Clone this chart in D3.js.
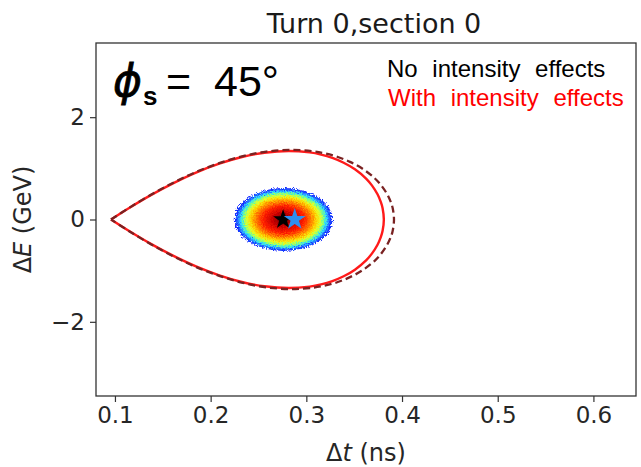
<!DOCTYPE html>
<html>
<head>
<meta charset="utf-8">
<script src="https://cdn.jsdelivr.net/npm/d3@7"></script>
<style>
  body { margin: 0; background: #fff; }
  svg { display: block; }
</style>
</head>
<body>
<script>
// Separatrix, upper half: Δt (ns) and ΔE (GeV), from the unstable fixed point to the right turning point.
const sepTimeWith   = [0.0959, 0.1144, 0.1380, 0.1617, 0.1853, 0.2090, 0.2326, 0.2562, 0.2816, 0.3035, 0.3154, 0.3272, 0.3390, 0.3508, 0.3627, 0.3685, 0.3744, 0.3779, 0.3797, 0.3810];
const sepEnergyWith = [0.000, 0.220, 0.481, 0.716, 0.921, 1.090, 1.221, 1.306, 1.340, 1.311, 1.269, 1.204, 1.110, 0.981, 0.795, 0.667, 0.493, 0.339, 0.221, 0.000];
const sepTimeNo     = [0.0959, 0.1144, 0.1380, 0.1618, 0.1856, 0.2097, 0.2338, 0.2581, 0.2845, 0.3076, 0.3202, 0.3329, 0.3456, 0.3584, 0.3714, 0.3778, 0.3843, 0.3882, 0.3902, 0.3916];
const sepEnergyNo   = [0.000, 0.223, 0.488, 0.727, 0.935, 1.106, 1.239, 1.326, 1.360, 1.331, 1.288, 1.222, 1.127, 0.996, 0.807, 0.677, 0.500, 0.344, 0.224, 0.000];

// Axis ticks
const xTicks = [0.1, 0.2, 0.3, 0.4, 0.5, 0.6];
const yTicks = [-2, 0, 2];

// Bunch: centre (ns, GeV), half extent (ns, GeV), and the density colour scale from core to edge
const bunchCentre = [0.2762, 0.0];
const bunchHalfExtent = [0.0510, 0.615];
const densityOffsets = [0.00, 0.22, 0.42, 0.56, 0.66, 0.75, 0.82, 0.88, 0.93, 1.00];
const densityColours = ["#5a0000", "#c80000", "#ff1e00", "#ff7a00", "#ffcc00", "#e6ff26", "#7dff86", "#2cdcff", "#2a7dff", "#0a12ff"];

// Bunch centre markers: without / with intensity effects
const markerTimes = [0.2757, 0.2879];
const markerEnergies = [0.0, 0.0];
const markerColours = ["#000000", "#2e8ff0"];

const W = 641, H = 467;
const plot = { left: 96, right: 636, top: 43, bottom: 396 };

const svg = d3.select("body").append("svg")
  .attr("width", W).attr("height", H)
  .attr("viewBox", `0 0 ${W} ${H}`);

const x = d3.scaleLinear().domain([0.0802, 0.6445]).range([plot.left, plot.right]);
const y = d3.scaleLinear().domain([-3.45, 3.45]).range([plot.bottom, plot.top]);

const defs = svg.append("defs");

// Jet-like density gradient for the particle cloud
const grad = defs.append("radialGradient")
  .attr("id", "bunchDensity")
  .attr("cx", "50%").attr("cy", "50%").attr("r", "50%");
grad.selectAll("stop")
  .data(densityOffsets)
  .join("stop")
  .attr("offset", d => d)
  .attr("stop-color", (d, i) => densityColours[i]);

// Grain for the macro-particle cloud
const grain = defs.append("filter")
  .attr("id", "grain")
  .attr("x", "-15%").attr("y", "-15%").attr("width", "130%").attr("height", "130%");
grain.append("feTurbulence")
  .attr("type", "fractalNoise")
  .attr("baseFrequency", 0.9)
  .attr("numOctaves", 2)
  .attr("seed", 3)
  .attr("result", "noise");
grain.append("feDisplacementMap")
  .attr("in", "SourceGraphic")
  .attr("in2", "noise")
  .attr("scale", 7)
  .attr("xChannelSelector", "R")
  .attr("yChannelSelector", "G");

const clip = defs.append("clipPath").attr("id", "plotClip");
clip.append("rect")
  .attr("x", plot.left).attr("y", plot.top)
  .attr("width", plot.right - plot.left).attr("height", plot.bottom - plot.top);

const body = svg.append("g").attr("clip-path", "url(#plotClip)");

// Particle cloud
body.append("ellipse")
  .attr("cx", x(bunchCentre[0]))
  .attr("cy", y(bunchCentre[1]))
  .attr("rx", x(bunchCentre[0] + bunchHalfExtent[0]) - x(bunchCentre[0]))
  .attr("ry", y(bunchCentre[1] - bunchHalfExtent[1]) - y(bunchCentre[1]))
  .attr("fill", "url(#bunchDensity)")
  .attr("filter", "url(#grain)");

// Closed separatrix: upper branch out, mirrored lower branch back
function closedSeparatrix(ts, es) {
  const pts = ts.map((t, i) => [t, es[i]]);
  const lower = ts.slice(0, -1).map((t, i) => [t, -es[i]]).reverse();
  return pts.concat(lower);
}

const line = d3.line()
  .x(d => x(d[0]))
  .y(d => y(d[1]))
  .curve(d3.curveCatmullRom.alpha(0.5));

body.append("path")
  .datum(closedSeparatrix(sepTimeWith, sepEnergyWith))
  .attr("d", line)
  .attr("fill", "none")
  .attr("stroke", "#ff1a1a")
  .attr("stroke-width", 2.4);

body.append("path")
  .datum(closedSeparatrix(sepTimeNo, sepEnergyNo))
  .attr("d", line)
  .attr("fill", "none")
  .attr("stroke", "#7a2222")
  .attr("stroke-width", 2.3)
  .attr("stroke-dasharray", "7,4");

// Centre-of-mass markers
const star = d3.symbol().type(d3.symbolStar);
body.selectAll("path.marker")
  .data(markerTimes.map((t, i) => ({ t, e: markerEnergies[i], c: markerColours[i] })))
  .join("path")
  .attr("class", "marker")
  .attr("transform", d => `translate(${x(d.t)},${y(d.e)})`)
  .attr("d", (d, i) => star.size(i === 0 ? 125 : 150)())
  .attr("fill", d => d.c);

// Axes
const axisFont = "'DejaVu Sans', sans-serif";
const tickColour = "#333";

const xAxis = svg.append("g")
  .attr("transform", `translate(0,${plot.bottom})`)
  .call(d3.axisBottom(x).tickValues(xTicks).tickFormat(d3.format(".1f")).tickSize(6).tickPadding(5));
const yAxis = svg.append("g")
  .attr("transform", `translate(${plot.left},0)`)
  .call(d3.axisLeft(y).tickValues(yTicks).tickFormat(d3.format("d")).tickSize(6).tickPadding(5));

[xAxis, yAxis].forEach(g => {
  g.select(".domain").remove();
  g.selectAll(".tick line").attr("stroke", tickColour).attr("stroke-width", 1.2);
  g.selectAll(".tick text")
    .attr("fill", "#262626")
    .style("font-family", axisFont)
    .style("font-size", "23px");
});

// Frame
svg.append("rect")
  .attr("x", plot.left).attr("y", plot.top)
  .attr("width", plot.right - plot.left).attr("height", plot.bottom - plot.top)
  .attr("fill", "none")
  .attr("stroke", tickColour)
  .attr("stroke-width", 1.3);

// Title
svg.append("text")
  .attr("x", 374)
  .attr("y", 33)
  .attr("text-anchor", "middle")
  .style("font-family", axisFont)
  .style("font-size", "27px")
  .attr("fill", "#1a1a1a")
  .text("Turn 0,section 0");

// Axis labels
const xLabel = svg.append("text")
  .attr("x", (plot.left + plot.right) / 2)
  .attr("y", 461)
  .attr("text-anchor", "middle")
  .style("font-family", axisFont)
  .style("font-size", "24px")
  .attr("fill", "#262626");
xLabel.append("tspan").text("Δ");
xLabel.append("tspan").style("font-style", "italic").text("t");
xLabel.append("tspan").text(" (ns)");

const yLabel = svg.append("text")
  .attr("transform", `translate(31,${(plot.top + plot.bottom) / 2}) rotate(-90)`)
  .attr("text-anchor", "middle")
  .style("font-family", axisFont)
  .style("font-size", "24px")
  .attr("fill", "#262626");
yLabel.append("tspan").text("Δ");
yLabel.append("tspan").style("font-style", "italic").text("E");
yLabel.append("tspan").text(" (GeV)");

// Synchronous phase annotation: ϕ with bold subscript s
const annFont = "'Liberation Sans', Arial, sans-serif";
svg.append("text")
  .attr("x", 113).attr("y", 96)
  .style("font-family", "'DejaVu Sans', sans-serif")
  .style("font-size", "44px")
  .style("font-style", "italic")
  .attr("fill", "#000")
  .attr("stroke", "#000")
  .attr("stroke-width", 0.8)
  .text("ϕ");
svg.append("text")
  .attr("x", 143).attr("y", 105)
  .style("font-family", annFont)
  .style("font-size", "26px")
  .style("font-weight", "bold")
  .attr("fill", "#000")
  .text("s");
svg.append("text")
  .attr("x", 166).attr("y", 96)
  .style("font-family", annFont)
  .style("font-size", "43px")
  .attr("fill", "#000")
  .text("=");
svg.append("text")
  .attr("x", 214).attr("y", 96)
  .style("font-family", annFont)
  .style("font-size", "43px")
  .attr("fill", "#000")
  .text("45°");

// Legend text
svg.append("text")
  .attr("x", 387).attr("y", 77)
  .style("font-family", annFont)
  .style("font-size", "24px")
  .style("word-spacing", "8px")
  .attr("fill", "#000")
  .text("No intensity effects");
svg.append("text")
  .attr("x", 388).attr("y", 106)
  .style("font-family", annFont)
  .style("font-size", "24px")
  .style("word-spacing", "8px")
  .attr("fill", "#ff0000")
  .text("With intensity effects");
</script>
</body>
</html>
